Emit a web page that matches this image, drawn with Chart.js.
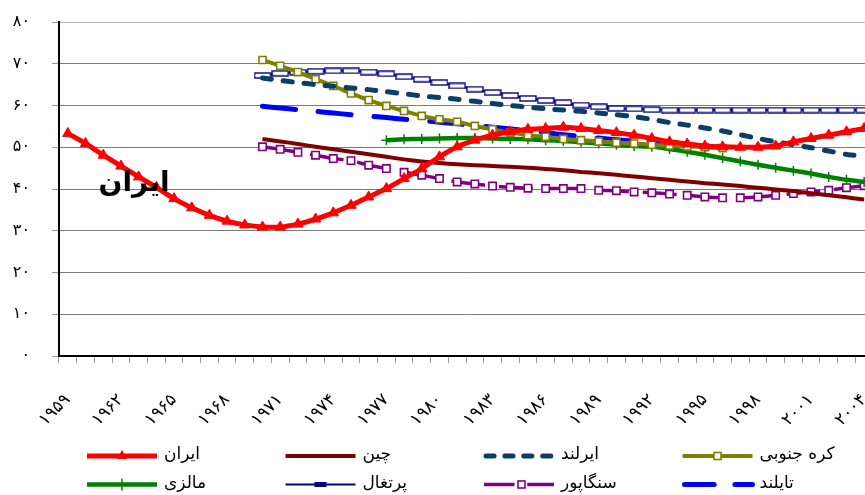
<!DOCTYPE html>
<html>
<head>
<meta charset="utf-8">
<script src="https://cdn.jsdelivr.net/npm/chart.js@4/dist/chart.umd.min.js"></script>
<style>
  html, body { margin: 0; padding: 0; background: #fff; overflow: hidden; }
  #wrap { position: relative; width: 880px; height: 495px; }
</style>
</head>
<body>
<div id="wrap"><canvas id="chart" width="880" height="495"></canvas></div>
<script>
  // years on the category axis
  const years = [];
  for (let y = 1959; y <= 2004; y++) years.push(y);

  const yTicks = [0, 10, 20, 30, 40, 50, 60, 70, 80];

  // series values (first year given per series)
  const iranStart = 1959;
  const iran = [53.3, 50.9, 48.1, 45.5, 42.9, 40.4, 37.7, 35.5, 33.7, 32.3,
    31.4, 30.9, 30.9, 31.6, 32.8, 34.3, 36.1, 38.1, 40.1, 42.5,
    44.9, 47.7, 50.1, 51.7, 52.9, 53.7, 54.3, 54.5, 54.8, 54.5,
    54.0, 53.5, 52.9, 52.1, 51.3, 50.8, 50.3, 50.1, 50.0, 50.0,
    50.3, 51.3, 52.1, 52.9, 53.7, 54.5];

  const chinaStart = 1970;
  const china = [52.0, 51.4, 50.8, 50.1, 49.5, 48.9, 48.3, 47.7, 47.1, 46.6,
    46.2, 45.9, 45.7, 45.5, 45.3, 45.1, 44.8, 44.5, 44.1, 43.8,
    43.4, 43.0, 42.6, 42.2, 41.8, 41.4, 41.1, 40.7, 40.3, 39.9,
    39.5, 39.0, 38.5, 38.0, 37.5];

  const irelandStart = 1970;
  const ireland = [66.6, 66.0, 65.5, 65.0, 64.6, 64.2, 63.8, 63.3, 62.8, 62.3,
    61.9, 61.5, 61.0, 60.5, 60.0, 59.6, 59.2, 58.9, 58.6, 58.2,
    57.8, 57.3, 56.7, 55.9, 55.3, 54.6, 53.9, 53.0, 52.1, 51.3,
    50.6, 49.9, 49.1, 48.3, 47.8];

  const koreaStart = 1970;
  const korea = [70.9, 69.5, 68.0, 66.3, 64.7, 62.9, 61.3, 59.9, 58.7, 57.5,
    56.7, 56.1, 55.1, 54.3, 53.5, 52.9, 52.5, 52.0, 51.7, 51.4,
    51.1, 50.9, 50.6, 50.4, 50.2, 50.0, 49.8];

  const malaysiaStart = 1977;
  const malaysia = [51.7, 51.9, 52.0, 52.1, 52.2, 52.2, 52.1, 52.0, 51.9, 51.7,
    51.5, 51.2, 50.9, 50.6, 50.3, 50.1, 49.6, 48.9, 48.2, 47.4,
    46.6, 45.8, 45.1, 44.4, 43.7, 42.9, 42.2, 41.7];

  const portugalStart = 1970;
  const portugal = [67.2, 67.7, 68.0, 68.2, 68.3, 68.3, 68.0, 67.6, 66.9, 66.3,
    65.5, 64.7, 63.9, 63.1, 62.4, 61.7, 61.2, 60.7, 60.1, 59.7,
    59.3, 59.2, 59.0, 58.9, 58.9, 58.9, 58.9, 58.9, 58.9, 58.9,
    58.9, 58.9, 58.9, 58.9, 58.9];

  const singaporeStart = 1970;
  const singapore = [50.1, 49.5, 48.8, 48.1, 47.3, 46.8, 45.7, 44.9, 44.0, 43.3,
    42.5, 41.7, 41.2, 40.7, 40.4, 40.2, 40.1, 40.1, 40.1, 39.7,
    39.6, 39.3, 39.1, 38.8, 38.5, 38.1, 37.9, 37.9, 38.1, 38.5,
    38.9, 39.3, 39.7, 40.3, 40.8];

  const thailandStart = 1970;
  const thailand = [59.8, 59.4, 59.0, 58.6, 58.2, 57.8, 57.5, 57.1, 56.7, 56.4,
    56.0, 55.6, 55.2, 54.8, 54.4, 54.0, 53.5, 53.0, 52.6, 52.2,
    51.8, 51.5, 51.2, 50.9, 50.6, 50.4];

  // put a series on the year axis, with gaps before/after
  function align(start, values) {
    return years.map(y => {
      const v = values[y - start];
      return v === undefined ? null : v;
    });
  }

  const faDigits = '۰۱۲۳۴۵۶۷۸۹';
  const toFa = s => String(s).replace(/\d/g, d => faDigits[d]);

  const FONT = '"DejaVu Sans", sans-serif';

  // hollow wide rectangle used as Portugal's marker
  const portugalMark = document.createElement('canvas');
  portugalMark.width = 18;
  portugalMark.height = 7;
  (function () {
    const c = portugalMark.getContext('2d');
    c.fillStyle = '#fff';
    c.fillRect(1, 1, 16, 5);
    c.strokeStyle = '#000080';
    c.lineWidth = 1.4;
    c.strokeRect(1, 1, 16, 5);
  })();

  const datasets = [
    { label: 'ایران', data: align(iranStart, iran), borderColor: '#ff0000', backgroundColor: '#ff0000',
      borderWidth: 5, pointStyle: 'triangle', pointRadius: 6, pointBorderWidth: 1, tension: 0.2 },
    { label: 'چین', data: align(chinaStart, china), borderColor: '#800000', backgroundColor: '#800000',
      borderWidth: 4, pointRadius: 0, tension: 0.2 },
    { label: 'ایرلند', data: align(irelandStart, ireland), borderColor: '#0b3d6b', backgroundColor: '#0b3d6b',
      borderWidth: 5, borderDash: [9, 12], borderCapStyle: 'round', pointRadius: 0, tension: 0.2 },
    { label: 'کره جنوبی', data: align(koreaStart, korea), borderColor: '#808000', backgroundColor: '#ffffff',
      borderWidth: 4, pointStyle: 'rect', pointRadius: 5, pointBorderWidth: 1.6, pointBorderColor: '#808000', tension: 0.2 },
    { label: 'مالزی', data: align(malaysiaStart, malaysia), borderColor: '#008000', backgroundColor: '#008000',
      borderWidth: 4.5, pointStyle: 'cross', pointRadius: 5, pointBorderWidth: 1.5, tension: 0.2 },
    { label: 'پرتغال', data: align(portugalStart, portugal), borderColor: '#000080', backgroundColor: '#000080',
      borderWidth: 2, pointStyle: portugalMark, pointRadius: 5, tension: 0.2 },
    { label: 'سنگاپور', data: align(singaporeStart, singapore), borderColor: '#800080', backgroundColor: '#ffffff',
      borderWidth: 3.5, borderDash: [34, 14], pointStyle: 'rect', pointRadius: 5.2, pointBorderWidth: 1.6,
      pointBorderColor: '#800080', tension: 0.2 },
    { label: 'تایلند', data: align(thailandStart, thailand), borderColor: '#0000ff', backgroundColor: '#0000ff',
      borderWidth: 5, borderDash: [33, 23], borderCapStyle: 'round', pointRadius: 0, tension: 0.2 }
  ];

  // the big "ایران" note next to the curve
  const notePlugin = {
    id: 'note',
    afterDatasetsDraw(chart) {
      const ctx = chart.ctx;
      ctx.save();
      ctx.font = 'bold 28px ' + FONT;
      ctx.fillStyle = '#000';
      ctx.textAlign = 'center';
      ctx.textBaseline = 'middle';
      ctx.fillText('ایران', 134, 184);
      ctx.restore();
    }
  };

  // 4 x 2 legend with fixed columns, sample line then text
  const legendPlugin = {
    id: 'gridLegend',
    afterDraw(chart) {
      const ctx = chart.ctx;
      chart.data.datasets.forEach((ds, i) => {
        const x0 = 87 + (i % 4) * 198.5;
        const y = 456 + Math.floor(i / 4) * 28.5;
        const len = 70;
        ctx.save();
        ctx.strokeStyle = ds.borderColor;
        ctx.lineWidth = ds.borderWidth;
        ctx.lineCap = ds.borderCapStyle || 'butt';
        ctx.setLineDash(ds.borderDash ? ds.borderDash.map(v => v * 0.9) : []);
        ctx.beginPath();
        ctx.moveTo(x0 + (ds.borderCapStyle === 'round' ? 2 : 0), y);
        ctx.lineTo(x0 + len, y);
        ctx.stroke();
        ctx.setLineDash([]);
        const cx = x0 + len / 2;
        if (ds.pointStyle === 'triangle') {
          ctx.fillStyle = ds.borderColor;
          ctx.beginPath();
          ctx.moveTo(cx, y - 6);
          ctx.lineTo(cx + 5, y + 3);
          ctx.lineTo(cx - 5, y + 3);
          ctx.closePath();
          ctx.fill();
        } else if (ds.pointStyle === 'rect') {
          ctx.fillStyle = '#fff';
          ctx.lineWidth = 1.6;
          const sx = i === 6 ? x0 + 34 : cx - 3.5;
          ctx.fillRect(sx, y - 3.5, 7, 7);
          ctx.strokeRect(sx, y - 3.5, 7, 7);
        } else if (ds.pointStyle === 'cross') {
          ctx.lineWidth = 1.5;
          ctx.beginPath();
          ctx.moveTo(cx, y - 6);
          ctx.lineTo(cx, y + 6);
          ctx.stroke();
        } else if (ds.pointStyle === portugalMark) {
          ctx.fillStyle = ds.borderColor;
          ctx.fillRect(cx - 6, y - 2.5, 12, 5);
        }
        ctx.font = '17px ' + FONT;
        ctx.fillStyle = '#000';
        ctx.textAlign = 'left';
        ctx.textBaseline = 'middle';
        ctx.fillText(ds.label, x0 + len + 7, y - 1);
        ctx.restore();
      });
    }
  };

  const chart = new Chart(document.getElementById('chart').getContext('2d'), {
    type: 'line',
    data: { labels: years, datasets: datasets },
    plugins: [notePlugin, legendPlugin],
    options: {
      responsive: false,
      animation: false,
      layout: { padding: { top: 22, right: 0, bottom: 0, left: 0 } },
      plugins: { legend: { display: false }, tooltip: { enabled: false } },
      scales: {
        x: {
          type: 'category',
          offset: true,
          afterFit(scale) {
            scale.height = 139;
            scale.paddingLeft = 0;
            scale.paddingRight = 0;
          },
          border: { color: '#000', width: 2 },
          grid: { offset: true, drawOnChartArea: false, drawTicks: true, tickLength: 7, tickColor: '#9a9a9a' },
          ticks: {
            autoSkip: false,
            minRotation: 45,
            maxRotation: 45,
            padding: 27,
            color: '#000',
            font: { family: FONT, size: 17 },
            callback: function (value, index) {
              const yr = years[index];
              return (yr - 1959) % 3 === 0 ? toFa(yr) : '';
            }
          }
        },
        y: {
          min: 0,
          max: 80,
          afterFit(scale) {
            scale.width = 59;
            scale.paddingTop = 0;
            scale.paddingBottom = 0;
          },
          afterBuildTicks(scale) { scale.ticks = yTicks.map(v => ({ value: v })); },
          border: { color: '#000', width: 2 },
          grid: {
            color: ctx => (ctx.tick && ctx.tick.value === 80 ? '#b8b8b8' : '#7a7a7a'),
            lineWidth: 1,
            tickLength: 7,
            tickColor: '#9a9a9a'
          },
          ticks: {
            padding: 22,
            color: '#000',
            font: { family: FONT, size: 16 },
            callback: v => toFa(v)
          }
        }
      }
    }
  });
</script>
</body>
</html>
